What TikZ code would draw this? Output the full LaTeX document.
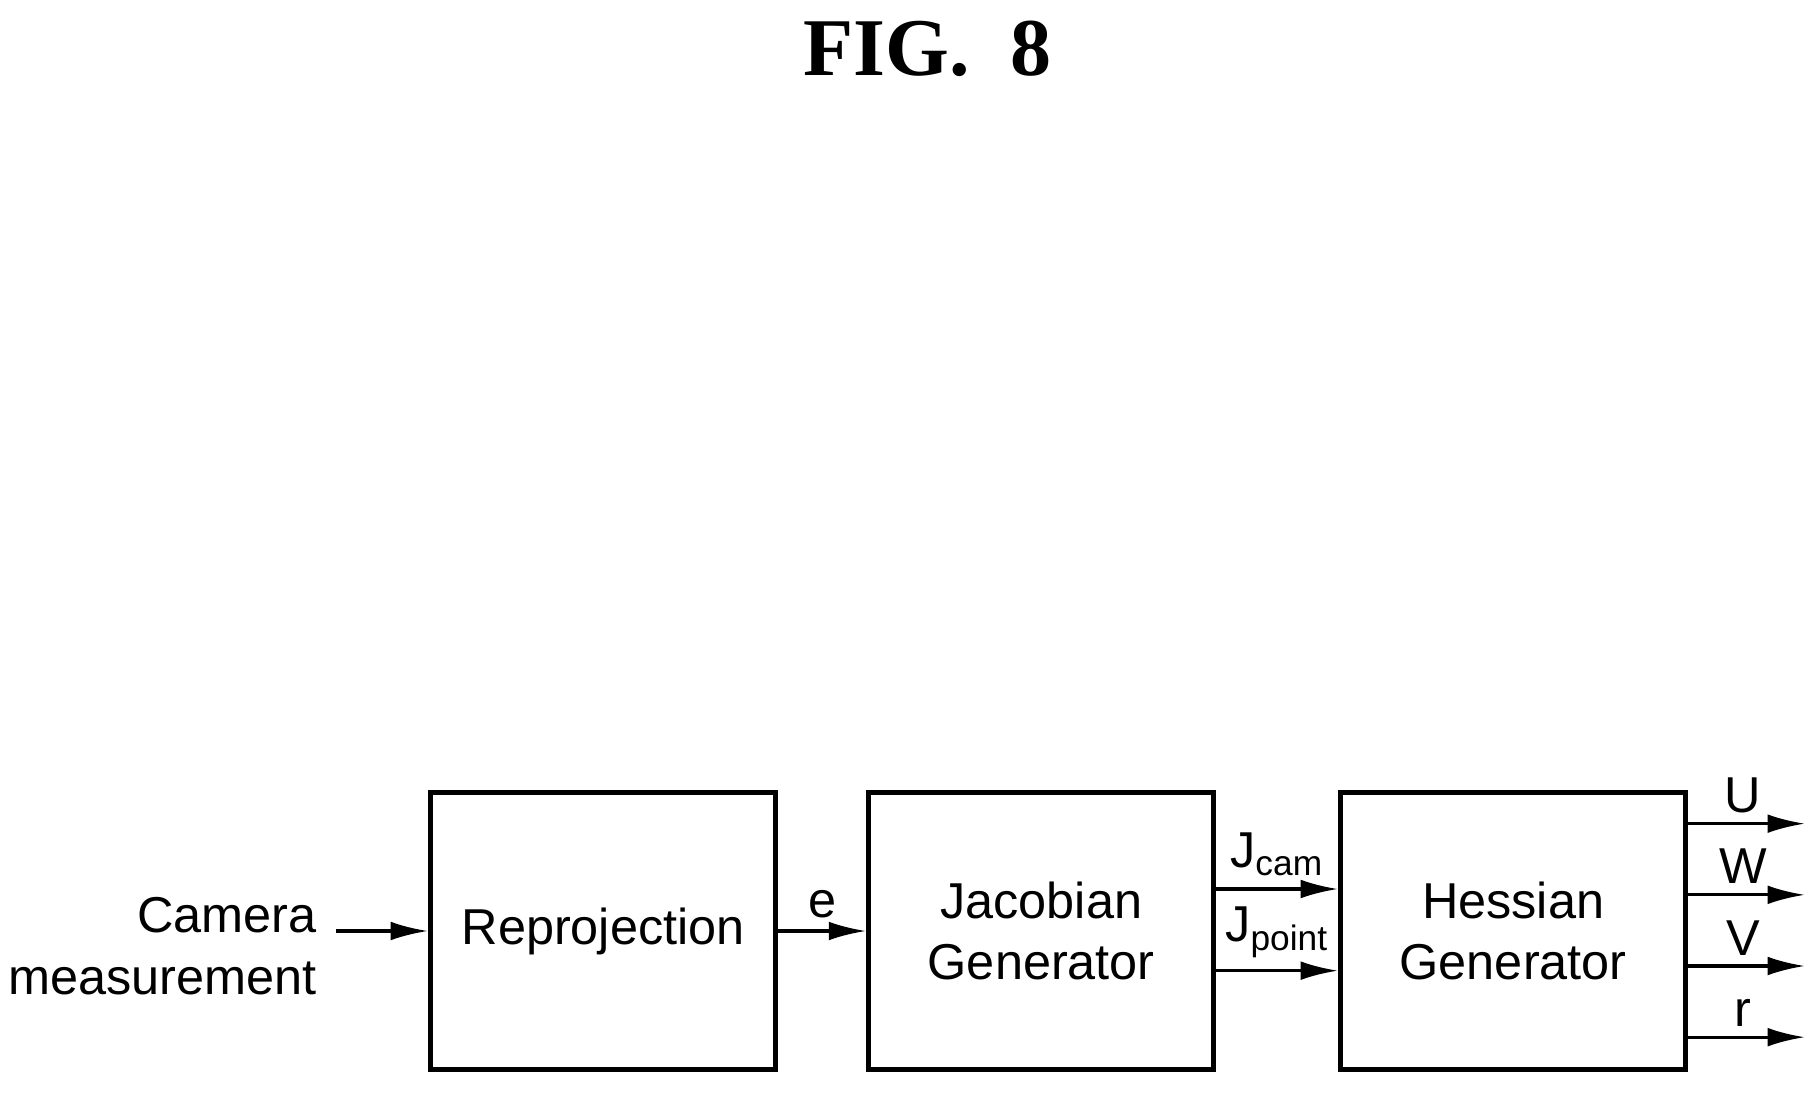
\documentclass[tikz,border=0pt]{standalone}
\usepackage{fontspec}
\setmainfont{Liberation Sans}
\newfontfamily\titlefont{Liberation Serif}
\usetikzlibrary{arrows.meta,positioning}
\begin{document}
\begin{tikzpicture}[x=1cm,y=1cm]
	
	\useasboundingbox (0,0) rectangle (15.6,9.38);
	
	\tikzset{block/.style={rectangle,draw,line width=1.2pt,minimum width=2.96cm,minimum height=2.38cm,align=center,font=\fontsize{12.3}{15}\selectfont},
		sig/.style={line width=0.8pt,-{Latex[length=3.2mm,width=1.6mm]}},
		lbl/.style={font=\fontsize{12.3}{15}\selectfont,inner sep=0pt}}
	
	\node (title) at (7.95,8.96) {\fontsize{20}{24}\selectfont\titlefont\bfseries FIG.\ \ 8};
	
	\node(reproj) [block] at (5.17,1.4) {Reprojection};
	
	\node(jacobian) [block] at (8.925,1.4) {Jacobian\\Generator};
	
	\node(hessian) [block] at (12.97,1.4) {Hessian\\Generator};
	
	\node(camera) [lbl,align=right,anchor=east] at (2.72,1.27) {Camera\\measurement};
	
	\coordinate (camstart) at (2.88,1.4);
	
	\draw[sig] (camstart) -- (reproj.west);
	
	\draw[sig] (reproj.east) -- (jacobian.west) node[lbl,midway,above=0.1cm] {e};
	
	\draw[sig] ([yshift=0.36cm]jacobian.east) -- ([yshift=0.36cm]hessian.west) node[lbl,midway,above=0.1cm] {J\textsubscript{cam}};
	
	\draw[sig] ([yshift=-0.34cm]jacobian.east) -- ([yshift=-0.34cm]hessian.west) node[lbl,midway,above=0.1cm] {J\textsubscript{point}};
	
	\foreach \name/\dy in {U/0.92,W/0.31,V/-0.3,r/-0.91}{
		\coordinate (out\name) at ([xshift=1cm,yshift=\dy cm]hessian.east);
		\draw[sig] ([yshift=\dy cm]hessian.east) -- (out\name) node[lbl,pos=0.47,above=0.08cm] {\name};
	}
	
\end{tikzpicture}
\end{document}
